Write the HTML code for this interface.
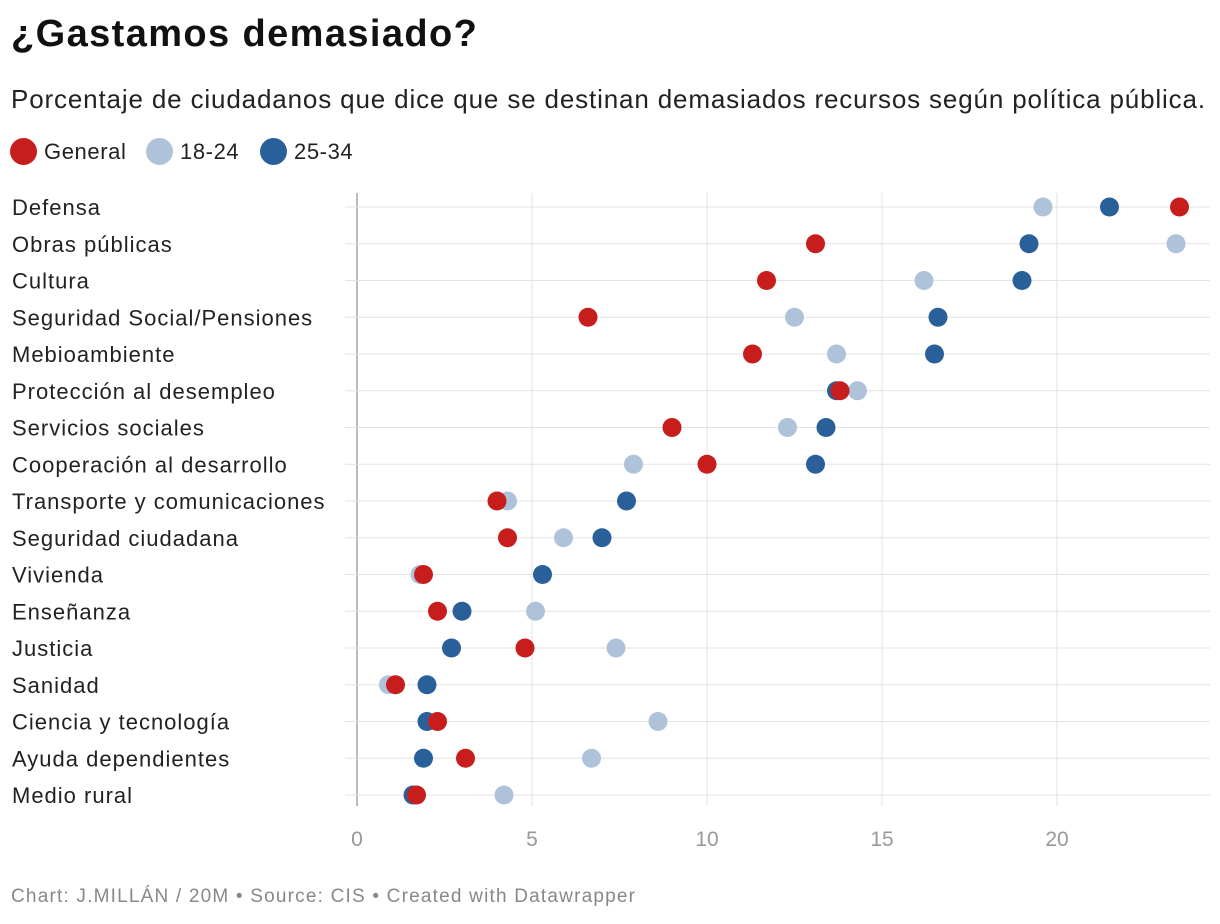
<!DOCTYPE html>
<html><head><meta charset="utf-8"><style>
body{margin:0;background:#fff;font-family:"Liberation Sans",sans-serif;}
.t{position:absolute;left:11px;top:13px;font-size:38px;letter-spacing:1.4px;font-weight:bold;color:#111;}
.s{position:absolute;left:11px;top:84px;font-size:26px;letter-spacing:0.85px;color:#222;white-space:nowrap;}
.lg{position:absolute;top:138px;font-size:22px;letter-spacing:0.6px;color:#222;display:flex;align-items:center;}
.lg span.d{width:27px;height:27px;border-radius:50%;display:inline-block;margin-right:7px;}
.f{position:absolute;left:11px;top:886px;font-size:19px;letter-spacing:1.2px;color:#888;white-space:nowrap;}
</style></head><body>
<div class="t">¿Gastamos demasiado?</div>
<div class="s">Porcentaje de ciudadanos que dice que se destinan demasiados recursos según política pública.</div>
<div class="lg" style="left:10px"><span class="d" style="background:#c71e1d"></span>General</div>
<div class="lg" style="left:146px"><span class="d" style="background:#aec2da"></span>18-24</div>
<div class="lg" style="left:260px"><span class="d" style="background:#2a6099"></span>25-34</div>
<svg id="c" width="1220" height="924" style="position:absolute;left:0;top:0"></svg>
<div class="f">Chart: J.MILLÁN / 20M • Source: CIS • Created with Datawrapper</div>
<script>
const categories=["Defensa","Obras públicas","Cultura","Seguridad Social/Pensiones","Mebioambiente","Protección al desempleo","Servicios sociales","Cooperación al desarrollo","Transporte y comunicaciones","Seguridad ciudadana","Vivienda","Enseñanza","Justicia","Sanidad","Ciencia y tecnología","Ayuda dependientes","Medio rural"];
const general=[23.5,13.1,11.7,6.6,11.3,13.8,9.0,10.0,4.0,4.3,1.9,2.3,4.8,1.1,2.3,3.1,1.7];
const age1824=[19.6,23.4,16.2,12.5,13.7,14.3,12.3,7.9,4.3,5.9,1.8,5.1,7.4,0.9,8.6,6.7,4.2];
const age2534=[21.5,19.2,19.0,16.6,16.5,13.7,13.4,13.1,7.7,7.0,5.3,3.0,2.7,2.0,2.0,1.9,1.6];
const ticks=[0,5,10,15,20];
const svg=document.getElementById('c');const NS="http://www.w3.org/2000/svg";
const x=v=>357+v*35, y=i=>207+i*36.75;
function mk(t,a){const e=document.createElementNS(NS,t);for(const k in a)e.setAttribute(k,a[k]);svg.appendChild(e);return e;}
ticks.forEach(v=>{const l=mk('line',{x1:x(v),x2:x(v),y1:193,y2:806,stroke:v===0?'#bbb':'#e3e3e3','stroke-width':v===0?2:1});

const t=mk('text',{x:x(v),y:846,'text-anchor':'middle','font-size':21,fill:'#999','font-family':'Liberation Sans'});t.textContent=v;
});
categories.forEach((c,i)=>{const l=mk('line',{x1:345,x2:1210,y1:y(i),y2:y(i),stroke:'#e3e3e3','stroke-width':1});

const t=mk('text',{x:12,y:y(i)+8,'font-size':22,'letter-spacing':1,fill:'#222','font-family':'Liberation Sans'});t.textContent=c;
});
[[age1824,'#aec2da','dot-18-24'],[age2534,'#2a6099','dot-25-34'],[general,'#c71e1d','dot-general']].forEach(([arr,col,n])=>{
arr.forEach((v,i)=>{const d=mk('circle',{cx:x(v),cy:y(i),r:9.5,fill:col});
});});
</script>
</body></html>
